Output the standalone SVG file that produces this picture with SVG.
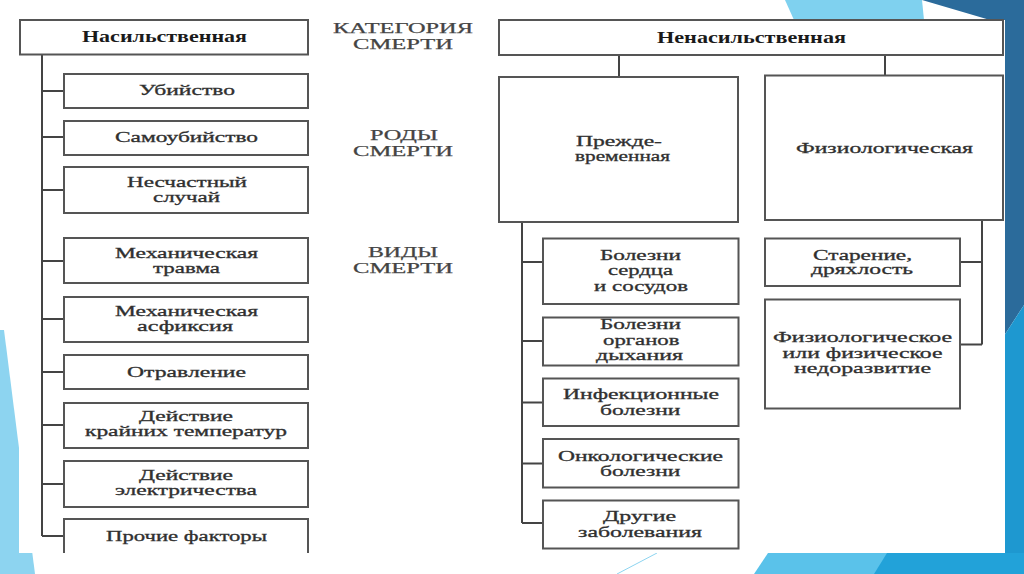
<svg xmlns="http://www.w3.org/2000/svg" width="1024" height="574" viewBox="0 0 1024 574">
<defs>
<style>
.box{fill:#fff;stroke:#555;stroke-width:2}
.con{fill:none;stroke:#444;stroke-width:2}
text{font-family:"Liberation Serif","Times New Roman",serif;font-size:14.5px;fill:#303030;stroke:#303030;stroke-width:0.3}
.hd{font-weight:bold;font-size:16px;fill:#1a1a1a;stroke:none}
.lab{font-size:14.5px;fill:#444;stroke:#444;stroke-width:0.25}
</style>
<clipPath id="img"><rect x="19" y="19" width="986" height="534"/></clipPath>
</defs>
<rect width="1024" height="574" fill="#fff"/>
<g id="decor">
<polygon points="785,0 922,0 924,20 794,20" fill="#7fd1ef"/>
<polygon points="922,0 1024,0 1024,305 1000,342 990,20" fill="#2b6b9b"/>
<polygon points="1024,305 1024,574 990,574 990,355 1000,342" fill="#1e98d0"/>
<polygon points="768,553 1010,553 1010,574 754,574" fill="#5ac2ea"/>
<polygon points="887,553 1024,553 1024,574 874,574" fill="#22a2d9"/>
<polygon points="0,330 4,330 35,574 0,574" fill="#8dd4f0"/>
<line x1="617" y1="574" x2="657" y2="553" stroke="#8dd4f0" stroke-width="1"/>
</g>
<rect x="19" y="20" width="986" height="533" fill="#fff"/>
<g clip-path="url(#img)">
<g id="connectors">
<path class="con" d="M42,54 V536 M42,91 H64 M42,137 H64 M42,190 H64 M42,261 H64 M42,319 H64 M42,372 H64 M42,425 H64 M42,484 H64 M42,536 H64"/>
<path class="con" d="M619,55 V77 M885,55 V75.5 M522,222 V523 M522,262 H543 M522,341 H543 M522,402.5 H543 M522,463.5 H543 M522,523 H543 M982,220 V344.5 M960,262 H982 M960,344.5 H982"/>
</g>
<g id="n-nasil"><rect class="box" x="20" y="20" width="288" height="34.5"/><text class="hd" x="82" y="41.5" textLength="165" lengthAdjust="spacingAndGlyphs">Насильственная</text></g>
<g id="l-kategoria"><text class="lab" x="333" y="33" textLength="140" lengthAdjust="spacingAndGlyphs">КАТЕГОРИЯ</text><text class="lab" x="353" y="49" textLength="100" lengthAdjust="spacingAndGlyphs">СМЕРТИ</text></g>
<g id="l-rody"><text class="lab" x="370" y="140" textLength="68" lengthAdjust="spacingAndGlyphs">РОДЫ</text><text class="lab" x="353" y="155.5" textLength="100" lengthAdjust="spacingAndGlyphs">СМЕРТИ</text></g>
<g id="l-vidy"><text class="lab" x="368" y="256.5" textLength="70" lengthAdjust="spacingAndGlyphs">ВИДЫ</text><text class="lab" x="353" y="272.5" textLength="100" lengthAdjust="spacingAndGlyphs">СМЕРТИ</text></g>
<g id="n-ubiystvo"><rect class="box" x="64" y="74" width="244" height="34"/><text x="139" y="95" textLength="96" lengthAdjust="spacingAndGlyphs">Убийство</text></g>
<g id="n-samoub"><rect class="box" x="64" y="121" width="244" height="34"/><text x="115" y="141.5" textLength="143" lengthAdjust="spacingAndGlyphs">Самоубийство</text></g>
<g id="n-neschast"><rect class="box" x="64" y="167" width="244" height="46"/><text x="127" y="187" textLength="120" lengthAdjust="spacingAndGlyphs">Несчастный</text><text x="153" y="201.5" textLength="67" lengthAdjust="spacingAndGlyphs">случай</text></g>
<g id="n-mtravma"><rect class="box" x="64" y="238" width="244" height="45"/><text x="115" y="258" textLength="143" lengthAdjust="spacingAndGlyphs">Механическая</text><text x="153" y="272.5" textLength="67" lengthAdjust="spacingAndGlyphs">травма</text></g>
<g id="n-masfiks"><rect class="box" x="64" y="297" width="244" height="45"/><text x="115" y="316" textLength="143" lengthAdjust="spacingAndGlyphs">Механическая</text><text x="137" y="330.5" textLength="96" lengthAdjust="spacingAndGlyphs">асфиксия</text></g>
<g id="n-otrav"><rect class="box" x="64" y="355" width="244" height="34"/><text x="127" y="377" textLength="119" lengthAdjust="spacingAndGlyphs">Отравление</text></g>
<g id="n-temp"><rect class="box" x="64" y="403" width="244" height="45"/><text x="139" y="421" textLength="94" lengthAdjust="spacingAndGlyphs">Действие</text><text x="85" y="436" textLength="202" lengthAdjust="spacingAndGlyphs">крайних температур</text></g>
<g id="n-elec"><rect class="box" x="64" y="461" width="244" height="46"/><text x="139" y="480" textLength="94" lengthAdjust="spacingAndGlyphs">Действие</text><text x="115" y="495" textLength="142" lengthAdjust="spacingAndGlyphs">электричества</text></g>
<g id="n-prochie"><rect class="box" x="64" y="519" width="244" height="44"/><text x="106" y="540.5" textLength="161" lengthAdjust="spacingAndGlyphs">Прочие факторы</text></g>
<g id="n-nenasil"><rect class="box" x="499" y="20" width="504" height="35"/><text class="hd" x="657" y="43" textLength="189" lengthAdjust="spacingAndGlyphs">Ненасильственная</text></g>
<g id="n-prezhde"><rect class="box" x="499" y="77" width="239" height="145"/><text x="576" y="145.5" textLength="86" lengthAdjust="spacingAndGlyphs">Прежде-</text><text x="575" y="161" textLength="95" lengthAdjust="spacingAndGlyphs">временная</text></g>
<g id="n-fiziol"><rect class="box" x="765" y="75.5" width="238" height="144.5"/><text x="796" y="152.5" textLength="177" lengthAdjust="spacingAndGlyphs">Физиологическая</text></g>
<g id="n-serdce"><rect class="box" x="543" y="238.5" width="195.5" height="65.5"/><text x="600" y="259.5" textLength="81" lengthAdjust="spacingAndGlyphs">Болезни</text><text x="608" y="275" textLength="65" lengthAdjust="spacingAndGlyphs">сердца</text><text x="594" y="290.5" textLength="94" lengthAdjust="spacingAndGlyphs">и сосудов</text></g>
<g id="n-organy"><rect class="box" x="543" y="317.5" width="195.5" height="48"/><text x="600" y="329" textLength="81" lengthAdjust="spacingAndGlyphs">Болезни</text><text x="603" y="344.5" textLength="76.5" lengthAdjust="spacingAndGlyphs">органов</text><text x="596" y="360" textLength="87" lengthAdjust="spacingAndGlyphs">дыхания</text></g>
<g id="n-infek"><rect class="box" x="543" y="378.5" width="195.5" height="47.5"/><text x="563" y="399.3" textLength="156" lengthAdjust="spacingAndGlyphs">Инфекционные</text><text x="600" y="414.6" textLength="80.5" lengthAdjust="spacingAndGlyphs">болезни</text></g>
<g id="n-onko"><rect class="box" x="543" y="439" width="195.5" height="48.5"/><text x="558" y="460.7" textLength="165" lengthAdjust="spacingAndGlyphs">Онкологические</text><text x="600" y="475.7" textLength="80.5" lengthAdjust="spacingAndGlyphs">болезни</text></g>
<g id="n-drugie"><rect class="box" x="543" y="500.5" width="195.5" height="48"/><text x="603" y="520.8" textLength="73" lengthAdjust="spacingAndGlyphs">Другие</text><text x="578" y="537" textLength="124" lengthAdjust="spacingAndGlyphs">заболевания</text></g>
<g id="n-starenie"><rect class="box" x="765" y="238.5" width="195" height="47.5"/><text x="813" y="259.5" textLength="99" lengthAdjust="spacingAndGlyphs">Старение,</text><text x="811" y="274.4" textLength="102" lengthAdjust="spacingAndGlyphs">дряхлость</text></g>
<g id="n-nedorazv"><rect class="box" x="765" y="299.5" width="195" height="109"/><text x="773" y="341.7" textLength="179" lengthAdjust="spacingAndGlyphs">Физиологическое</text><text x="782.6" y="357.7" textLength="160" lengthAdjust="spacingAndGlyphs">или физическое</text><text x="794" y="373" textLength="137" lengthAdjust="spacingAndGlyphs">недоразвитие</text></g>
</g>
</svg>
